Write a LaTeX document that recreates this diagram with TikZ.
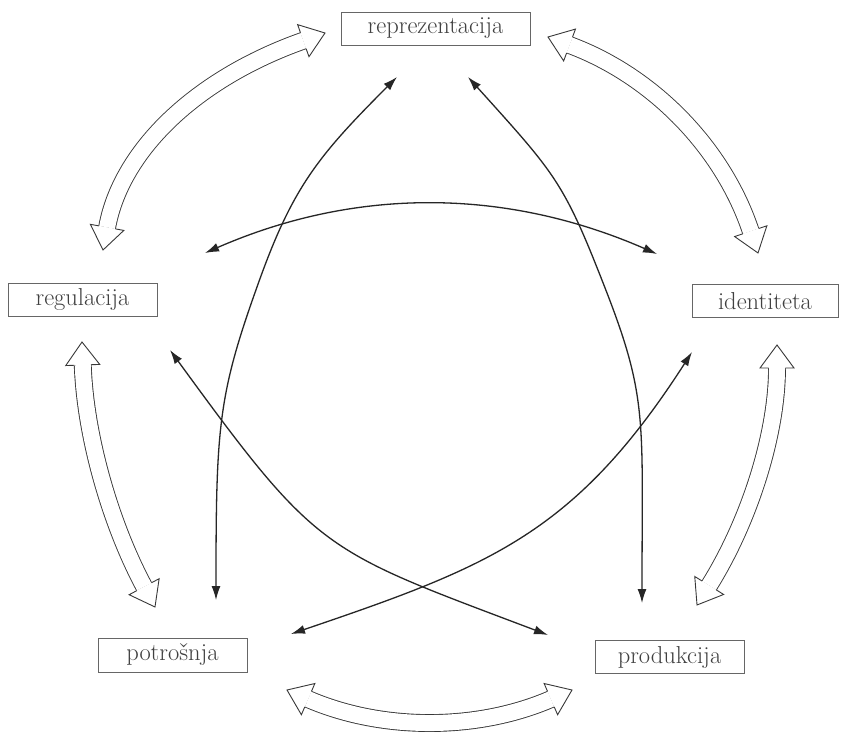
\documentclass[tikz,border=0pt]{standalone}
\usepackage{fontspec}
\usetikzlibrary{arrows.meta,decorations.markings}
\newcommand\boxfont{\fontsize{24.5}{28}\selectfont}
\tikzset{
  outerline/.style={draw=black!78, line width=0.9pt},
  innerline/.style={draw=black!85, line width=1.3pt,
    arrows={Latex[length=14pt,width=9pt]-Latex[length=14pt,width=9pt]}},
  box/.style={draw=black!60, line width=0.8pt, text=black!75, font=\boxfont,
    inner sep=0pt, minimum height=33pt},
}
\newcommand\outerarrow[4]{%
  \draw[outerline, double=white, double distance=16pt, shorten <=23pt, shorten >=23pt]
    (#1) .. controls #2 and #3 .. (#4);
  \path[decorate, decoration={markings,
    mark=at position 0 with {%
      \fill[white] (23,-17) -- (0,0) -- (23,17) -- cycle;
      \draw[outerline] (23,-8.45) -- (23,-17) -- (0,0) -- (23,17) -- (23,8.45);},
    mark=at position 0.9999 with {%
      \fill[white] (-23,-17) -- (0,0) -- (-23,17) -- cycle;
      \draw[outerline] (-23,-8.45) -- (-23,-17) -- (0,0) -- (-23,17) -- (-23,8.45);}}]
    (#1) .. controls #2 and #3 .. (#4);
}
\begin{document}
\begin{tikzpicture}[x=1pt,y=-1pt]
\fill[white] (0,0) rectangle (842,735);
\useasboundingbox (0,0) rectangle (842,735);

% boxes
\node[box, minimum width=189pt] (rep) at (435.5,28.5) {reprezentacija};
\node[box, minimum width=146pt] (ide) at (765,301) {identiteta};
\node[box, minimum width=149pt] (reg) at (82.5,299.5) {regulacija};
\node[box, minimum width=149pt, minimum height=34pt] (pot) at (172.5,655) {potrošnja};
\node[box, minimum width=149pt] (pro) at (669.5,657) {produkcija};

% outer arrow ends
\coordinate (tlA) at (103,250); \coordinate (tlB) at (325,33);
\coordinate (lA) at (82,342);   \coordinate (lB) at (155,607);
\coordinate (rA) at (777,345);  \coordinate (rB) at (697,605);
\coordinate (trA) at (548,37);  \coordinate (trB) at (758,253);
\coordinate (bA) at (287,690);  \coordinate (bB) at (572,690);

\outerarrow{tlA}{(121,151)}{(195,79)}{tlB}
\outerarrow{lA}{(85,433)}{(109,521)}{lB}
\outerarrow{rA}{(777,433)}{(750,520)}{rB}
\outerarrow{trA}{(653,76)}{(723,148)}{trB}
\outerarrow{bA}{(382,731)}{(477,731)}{bB}

% inner arrow ends
\coordinate (aA) at (216,600); \coordinate (aB) at (397,77);
\coordinate (bbA) at (642,603); \coordinate (bbB) at (468,77);
\coordinate (cA) at (205,253); \coordinate (cB) at (657,254);
\coordinate (dA) at (170,350); \coordinate (dB) at (548,635);
\coordinate (eA) at (692,352); \coordinate (eB) at (291,634);

\draw[innerline] (aA) .. controls (216,428) and (218,396) .. (257,287)
                      .. controls (292,188) and (317,157) .. (aB);
\draw[innerline] (bbA) .. controls (642,422) and (648,399) .. (607,293)
                       .. controls (563.6,181.2) and (556.8,175.6) .. (bbB);
\draw[innerline] (cA) .. controls (356,187) and (506,188) .. (cB);
\draw[innerline] (dA) .. controls (318.8,554.3) and (321.8,549.4) .. (dB);
\draw[innerline] (eA) .. controls (575,534) and (489.4,566.5) .. (eB);
\end{tikzpicture}
\end{document}
